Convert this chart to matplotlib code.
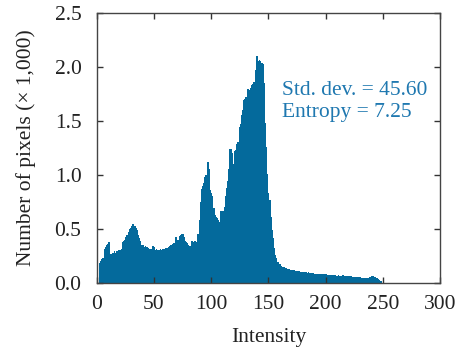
import matplotlib
matplotlib.use("Agg")
import matplotlib.pyplot as plt
import numpy as np

intensity = np.arange(256)
counts_k = [
    0, 0, 0.18, 0.20, 0.22, 0.23, 0.31, 0.33, 0.35, 0.36,
    0.38, 0.38, 0.27, 0.28, 0.28, 0.29, 0.28, 0.29, 0.29, 0.30,
    0.30, 0.31, 0.38, 0.39, 0.40, 0.42, 0.44, 0.47, 0.50, 0.51,
    0.53, 0.54, 0.54, 0.53, 0.51, 0.49, 0.44, 0.41, 0.39, 0.35,
    0.35, 0.33, 0.34, 0.33, 0.33, 0.32, 0.31, 0.31, 0.34, 0.34,
    0.33, 0.30, 0.31, 0.30, 0.30, 0.31, 0.30, 0.31, 0.31, 0.31,
    0.32, 0.32, 0.33, 0.34, 0.35, 0.35, 0.36, 0.37, 0.42, 0.42,
    0.40, 0.40, 0.43, 0.44, 0.45, 0.45, 0.42, 0.39, 0.38, 0.37,
    0.35, 0.34, 0.39, 0.39, 0.38, 0.39, 0.39, 0.38, 0.45, 0.58,
    0.75, 0.87, 0.90, 0.92, 0.98, 1.00, 1.12, 1.12, 1.05, 0.86,
    0.83, 0.80, 0.69, 0.63, 0.61, 0.60, 0.58, 0.56, 0.66, 0.66,
    0.66, 0.70, 0.80, 0.88, 0.94, 1.05, 1.24, 1.24, 1.20, 1.10,
    1.22, 1.23, 1.28, 1.30, 1.44, 1.47, 1.55, 1.60, 1.69, 1.70,
    1.72, 1.79, 1.79, 1.78, 1.80, 1.83, 1.84, 1.86, 1.97, 2.10,
    2.10, 2.05, 2.06, 2.05, 2.03, 2.02, 1.85, 1.48, 1.26, 1.01,
    0.83, 0.77, 0.61, 0.49, 0.41, 0.32, 0.26, 0.23, 0.19, 0.17,
    0.17, 0.16, 0.15, 0.15, 0.15, 0.14, 0.13, 0.13, 0.13, 0.12,
    0.12, 0.12, 0.12, 0.11, 0.11, 0.11, 0.11, 0.11, 0.10, 0.10,
    0.10, 0.10, 0.10, 0.10, 0.095, 0.10, 0.095, 0.09, 0.09, 0.09,
    0.085, 0.085, 0.08, 0.085, 0.085, 0.08, 0.08, 0.08, 0.08, 0.08,
    0.08, 0.075, 0.075, 0.075, 0.07, 0.075, 0.07, 0.07, 0.07, 0.065,
    0.065, 0.07, 0.065, 0.065, 0.07, 0.07, 0.065, 0.065, 0.06, 0.06,
    0.065, 0.06, 0.06, 0.055, 0.055, 0.05, 0.055, 0.05, 0.05, 0.05,
    0.05, 0.045, 0.045, 0.045, 0.04, 0.04, 0.04, 0.045, 0.05, 0.055,
    0.06, 0.06, 0.055, 0.05, 0.045, 0.04, 0.035, 0.03, 0.02, 0,
    0, 0, 0, 0, 0, 0,
]
x_ticks = [0, 50, 100, 150, 200, 250, 300]
y_ticks = [0.0, 0.5, 1.0, 1.5, 2.0, 2.5]
stats_lines = ["Std. dev. = 45.60", "Entropy = 7.25"]

plt.rcParams['font.family'] = ['Liberation Serif', 'DejaVu Serif']
bar_color = '#046a9c'
text_color = '#1f78b0'

fig = plt.figure(figsize=(4.65, 3.5), dpi=100)
ax = fig.add_axes([0.208, 0.192, 0.738, 0.772])
edges = np.append(intensity, intensity[-1] + 1)
ax.stairs(counts_k, edges, fill=True, color=bar_color, linewidth=0)
ax.set_xlim(0, 300)
ax.set_ylim(0, 2.5)
ax.set_xticks(x_ticks)
ax.set_yticks(y_ticks)
ax.set_yticklabels([f"{v:.1f}" for v in y_ticks])
ax.tick_params(direction='in', top=True, right=True, length=4, width=1,
               labelsize=15.5, colors='#333333', labelcolor='#222222')
ax.tick_params(axis='y', pad=11)
ax.tick_params(axis='x', pad=9)
for s in ax.spines.values():
    s.set_color('#444444')
    s.set_linewidth(1.0)
ax.set_xlabel("Intensity", fontsize=15.5, color='#222222', labelpad=10)
ax.set_ylabel("Number of pixels (\u00d7 1,000)", fontsize=15.5, color='#222222', labelpad=13)
ax.text(162, 1.738, stats_lines[0], fontsize=15.5, color=text_color, va='baseline', ha='left')
ax.text(162, 1.537, stats_lines[1], fontsize=15.5, color=text_color, va='baseline', ha='left')

fig.savefig("out.png", dpi=100)
